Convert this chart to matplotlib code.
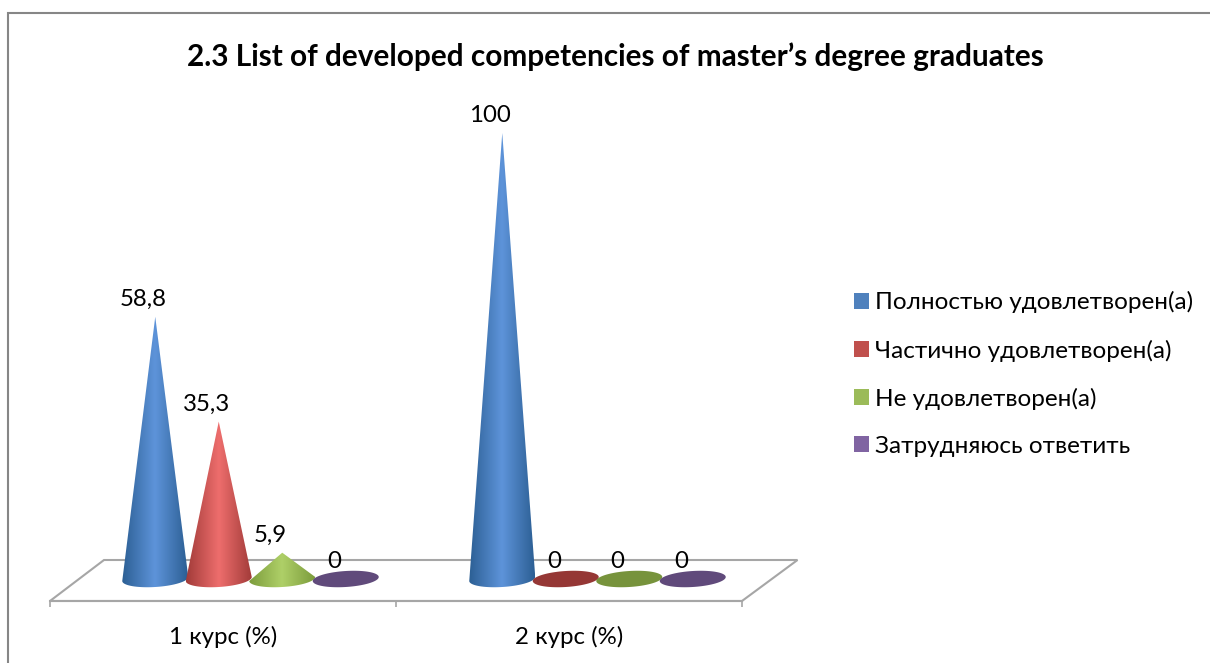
import numpy as np
import matplotlib
matplotlib.use("Agg")
import matplotlib.pyplot as plt
from matplotlib.colors import LinearSegmentedColormap
from matplotlib.patches import Polygon, Rectangle

plt.rcParams["font.family"] = ["Lato", "Open Sans", "DejaVu Sans"]

# data
title = "2.3 List of developed competencies of master\u2019s degree graduates"
categories = ["1 курс (%)", "2 курс (%)"]
series_names = ["Полностью удовлетворен(а)", "Частично удовлетворен(а)",
                "Не удовлетворен(а)", "Затрудняюсь ответить"]
full = [58.8, 100]
partial = [35.3, 0]
no = [5.9, 0]
unsure = [0, 0]
series_values = [full, partial, no, unsure]

# colours per series
legend_colors = ["#4f81bd", "#c0504d", "#9bbb59", "#8064a2"]
edge_colors = ["#2c5f94", "#a23b39", "#7c9c3c", "#5c4676"]
mid_colors = ["#5e94da", "#ee6e6d", "#afd068", "#7f64a5"]
flat_colors = ["#4f81bd", "#953735", "#77933c", "#604a7b"]

W, H = 1210, 663


def px_axes(x0, x1, y_top, y_bottom):
    return fig.add_axes([x0 / W, 1 - y_bottom / H, (x1 - x0) / W, (y_bottom - y_top) / H])


def cone_outline(xc, value, rx, ry, tilt):
    # outline of a cone: tip plus the front half of its tilted base
    t = np.linspace(np.pi, 2 * np.pi, 40)
    xs = xc + rx * np.cos(t)
    ys = ry * np.sin(t) + tilt * np.cos(t)
    return np.vstack([[xc, value], np.column_stack([xs, ys])])


def base_outline(xc, rx, ry, tilt):
    t = np.linspace(0, 2 * np.pi, 80)
    return np.column_stack([xc + rx * np.cos(t), ry * np.sin(t) + tilt * np.cos(t)])


fig = plt.figure(figsize=(W / 100, H / 100), dpi=100)

# outer frame
fig.add_artist(Rectangle((8 / W, -0.01), 1.1, 1 - 13 / H + 0.01, transform=fig.transFigure,
                         fill=False, edgecolor="#868686", linewidth=1.5))

fig.text(615.5 / W, 1 - 57 / H, title, ha="center", va="center",
         fontsize=21.4, fontweight="bold", color="black")

# main axes, value 0 sits on the middle of the floor
ax = px_axes(77, 771, 133, 579)
ax.set_xlim(-0.5, 1.5)
ax.set_ylim(0, 100)
ax.axis("off")

# floor
floor = Polygon([[-0.5 + 27 / 347, 4.26], [1.5 + 26.5 / 347, 4.26],
                 [1.5 - 29 / 347, -4.93], [-0.5 - 27 / 347, -4.93]],
                closed=True, fill=False, edgecolor="#a6a6a6", linewidth=1.5, clip_on=False)
ax.add_patch(floor)

step = 63.5 / 347
rx = 33 / 347
ry = 8 / 4.46
tilt = 2.0 / 4.46

for s, values in enumerate(series_values):
    cmap = LinearSegmentedColormap.from_list(
        "c%d" % s, [edge_colors[s], mid_colors[s], edge_colors[s]])
    for i, v in enumerate(values):
        xc = i + (s - 1.5) * step
        if v > 0:
            img = ax.imshow(np.linspace(0, 1, 128).reshape(1, -1), cmap=cmap, aspect="auto",
                            extent=[xc - rx, xc + rx, -ry - 1, v], zorder=3 + s)
            clip = Polygon(cone_outline(xc, v, rx, ry, tilt), closed=True,
                           transform=ax.transData, facecolor="none", edgecolor="none")
            ax.add_patch(clip)
            img.set_clip_box(fig.bbox)
            img.set_clip_path(clip)
        else:
            ax.add_patch(Polygon(base_outline(xc, rx, ry, tilt), closed=True,
                                 facecolor=flat_colors[s], edgecolor="none",
                                 zorder=3 + s, clip_on=False))
        label = ("%g" % v).replace(".", ",")
        ax.annotate(label, (xc, v), xytext=(-8.6, 12.6), textcoords="offset points",
                    ha="center", va="center", fontsize=17.3, color="black", zorder=10,
                    annotation_clip=False)

ax.set_xlim(-0.5, 1.5)
ax.set_ylim(0, 100)

# front edge of the floor carries the category axis
ax_cat = px_axes(50, 742, 590, 601)
ax_cat.patch.set_alpha(0)
ax_cat.set_xlim(-0.5, 1.5)
ax_cat.set_ylim(0, 1)
for side in ["top", "left", "right"]:
    ax_cat.spines[side].set_visible(False)
ax_cat.spines["bottom"].set_color("#a6a6a6")
ax_cat.spines["bottom"].set_linewidth(1.5)
ax_cat.set_yticks([])
ax_cat.set_xticks([-0.5, 0.5, 1.5])
ax_cat.set_xticklabels([])
ax_cat.tick_params(axis="x", which="major", length=4.5, width=1.2, color="#a6a6a6")
ax_cat.set_xticks([0, 1], minor=True)
ax_cat.set_xticklabels(categories, minor=True, fontsize=17.3)
ax_cat.tick_params(axis="x", which="minor", length=0, pad=18)

# legend
handles = [Rectangle((0, 0), 1, 1, facecolor=c, edgecolor="none") for c in legend_colors]
fig.legend(handles, series_names, loc="center left", bbox_to_anchor=(854 / W, 1 - 374 / H),
           frameon=False, fontsize=17.5, handlelength=0.62, handleheight=0.62,
           handletextpad=0.25, labelspacing=1.07, borderpad=0, borderaxespad=0)

fig.savefig("out.png", dpi=100)
